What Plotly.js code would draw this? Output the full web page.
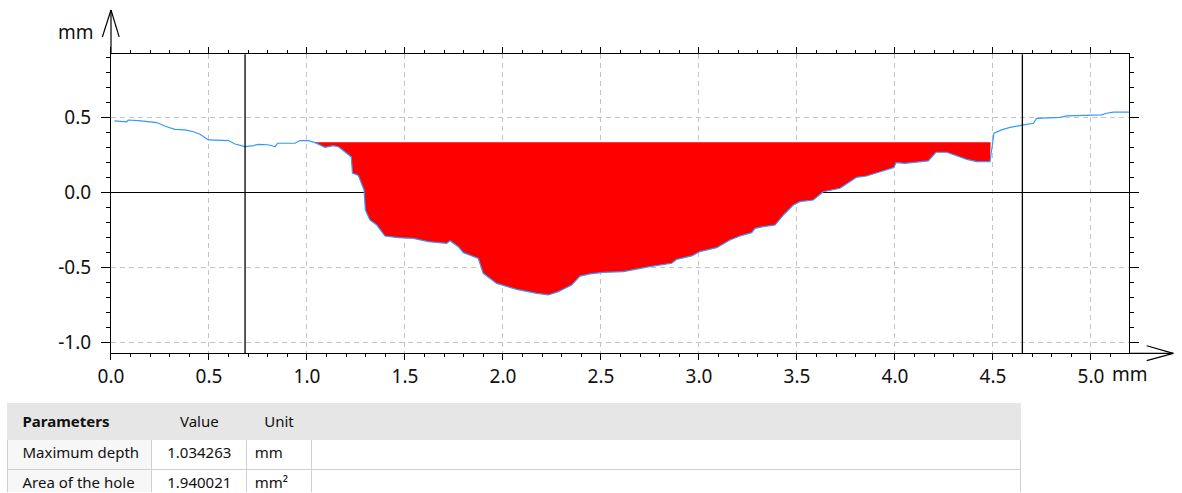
<!DOCTYPE html>
<html>
<head>
<meta charset="utf-8">
<script src="https://cdn.plot.ly/plotly-3.0.1.min.js"></script>
<style>
html,body{margin:0;padding:0;background:#fff;}
#chart{width:1182px;height:493px;}
</style>
</head>
<body>
<div id="chart"></div>
<script>
// ---- data ----
const profileX = [0.017,0.06,0.08,0.088,0.139,0.233,0.28,0.327,0.378,0.42,0.454,0.497,0.55,0.599,0.633,0.684,0.72,0.752,0.8,0.837,0.85,0.9,0.939,0.964,1.007,1.041,1.065,1.092,1.134,1.16,1.177,1.205,1.226,1.232,1.262,1.291,1.298,1.321,1.356,1.398,1.466,1.543,1.619,1.713,1.73,1.772,1.798,1.874,1.899,1.968,2.07,2.172,2.231,2.282,2.35,2.393,2.444,2.512,2.614,2.75,2.861,2.886,2.963,3.005,3.09,3.158,3.209,3.269,3.286,3.328,3.388,3.431,3.482,3.515,3.583,3.634,3.719,3.762,3.804,3.855,3.923,3.995,4.005,4.051,4.17,4.209,4.264,4.366,4.417,4.485,4.498,4.505,4.544,4.587,4.655,4.706,4.723,4.842,4.876,5.054,5.08,5.114,5.196];
const profileY = [0.477,0.474,0.47,0.483,0.479,0.466,0.44,0.421,0.417,0.405,0.388,0.35,0.348,0.346,0.323,0.306,0.31,0.321,0.318,0.306,0.328,0.33,0.328,0.346,0.346,0.332,0.318,0.301,0.312,0.305,0.288,0.262,0.237,0.13,0.113,0.017,-0.117,-0.183,-0.217,-0.29,-0.301,-0.306,-0.328,-0.339,-0.321,-0.361,-0.401,-0.439,-0.539,-0.606,-0.646,-0.672,-0.683,-0.661,-0.617,-0.557,-0.543,-0.532,-0.528,-0.494,-0.472,-0.446,-0.423,-0.394,-0.368,-0.317,-0.29,-0.268,-0.239,-0.228,-0.217,-0.15,-0.083,-0.061,-0.05,0.005,0.028,0.065,0.101,0.11,0.139,0.166,0.199,0.194,0.21,0.268,0.268,0.221,0.206,0.206,0.328,0.395,0.417,0.434,0.45,0.461,0.494,0.501,0.51,0.517,0.528,0.535,0.535];

const holeStart = 1.04;
const holeEnd = 4.488;
const holeLevel = 0.335;

const cursorX = [0.684, 4.65];

const xTickVals = [0,0.5,1,1.5,2,2.5,3,3.5,4,4.5,5];
const xTickText = ['0.0','0.5','1.0','1.5','2.0','2.5','3.0','3.5','4.0','4.5','5.0'];
const xMajorVals = [0,1,2,3,4,5];
const yTickVals = [-1,-0.5,0,0.5];
const yTickText = ['-1.0','-0.5','0.0','0.5'];

const tableHeader = ['Parameters','Value','Unit',''];
const paramNames = ['Maximum depth','Area of the hole'];
const paramValues = ['1.034263','1.940021'];
const paramUnits = ['mm','mm²'];

// ---- build traces ----
const fillX = [], fillY = [];
profileX.forEach((x,i)=>{ if (x>=holeStart && x<=holeEnd){ fillX.push(x); fillY.push(profileY[i]); } });
fillX.push(holeEnd, holeStart);
fillY.push(holeLevel, holeLevel);

const FONT = 'Noto Sans, Liberation Sans, sans-serif';
const indent = s => '\u2002' + s;
const headerText = tableHeader.map((s,i) => i === 0 ? indent('<b>' + s + '</b>') : '<span>' + s + '</span>');

const traces = [
  {type:'scatter', mode:'lines', x:fillX, y:fillY, fill:'toself', fillcolor:'#ff0000',
   line:{width:0,color:'#ff0000'}, hoverinfo:'skip', showlegend:false},
  {type:'scatter', mode:'lines', x:profileX, y:profileY, line:{color:'#3399ff', width:1.2},
   showlegend:false},
  {type:'table', domain:{x:[0,0.9037], y:[0,0.1863]},
   columnwidth:[145,95,65,709],
   header:{values:headerText, align:['left','center','center','left'], height:30,
     fill:{color:'#e6e6e6'}, line:{color:'#e6e6e6', width:1},
     font:{family:FONT, size:15, color:'#111'}},
   cells:{values:[paramNames.map(indent), paramValues, paramUnits, ['','']],
     align:['left','center','left','left'], height:30,
     fill:{color:['#f7f7f7','#ffffff','#ffffff','#ffffff']},
     line:{color:'#d0d0d0', width:1},
     font:{family:FONT, size:15, color:'#111'}}
  }
];

const xRange = [0, 5.194];
const yRange = [-1.072, 0.921];

const shapes = cursorX.map(cx => ({type:'line', xref:'x', yref:'y domain', x0:cx, x1:cx, y0:0, y1:1,
  line:{color:'#000', width:1.3}}));
// axis arrows (decoration)
const arrowLine = {color:'#000', width:1.2};
shapes.push(
  {type:'line', xref:'x domain', yref:'y domain', x0:0, x1:0, y0:1, y1:1.148, line:arrowLine},
  {type:'line', xref:'x domain', yref:'y domain', x0:-0.0085, x1:0, y0:1.058, y1:1.148, line:arrowLine},
  {type:'line', xref:'x domain', yref:'y domain', x0:0.0080, x1:0, y0:1.058, y1:1.148, line:arrowLine},
  {type:'line', xref:'x domain', yref:'y domain', x0:1, x1:1.0435, y0:0, y1:0, line:arrowLine},
  {type:'line', xref:'x domain', yref:'y domain', x0:1.0174, x1:1.0435, y0:0.0254, y1:0, line:arrowLine},
  {type:'line', xref:'x domain', yref:'y domain', x0:1.0174, x1:1.0435, y0:-0.0244, y1:0, line:arrowLine}
);

const tickFont = {family:FONT, size:19, color:'#111'};

const layout = {
  width:1182, height:493,
  margin:{l:7, r:53, t:10, b:0, pad:0},
  paper_bgcolor:'#fff', plot_bgcolor:'#fff',
  showlegend:false,
  font:{family:FONT, color:'#111'},
  xaxis:{domain:[0.09269,1], range:xRange, anchor:'y',
    tickmode:'array', tickvals:xTickVals, ticktext:xTickText,
    ticks:'outside', ticklen:6, tickcolor:'#000', tickwidth:1,
    showline:true, linecolor:'#000', linewidth:1, mirror:'ticks',
    showgrid:true, gridcolor:'#c4c4c4', griddash:'5px,4px', gridwidth:1,
    zeroline:false, tickfont:tickFont, ticklabelstandoff:0,
    minor:{tickmode:'linear', tick0:0, dtick:0.1, ticks:'outside', ticklen:3, tickcolor:'#000', showgrid:false}
  },
  xaxis2:{domain:[0.09269,1], range:xRange, overlaying:'x', anchor:'y', side:'bottom',
    tickmode:'array', tickvals:xMajorVals, ticks:'outside', ticklen:9, tickcolor:'#000',
    showticklabels:false, showgrid:false, zeroline:false, showline:false, mirror:'ticks'},
  yaxis:{domain:[0.2892,0.9083], range:yRange,
    tickmode:'array', tickvals:yTickVals, ticktext:yTickText,
    ticks:'outside', ticklen:9, tickcolor:'#000', tickwidth:1,
    showline:true, linecolor:'#000', linewidth:1, mirror:'ticks',
    showgrid:true, gridcolor:'#c4c4c4', griddash:'5px,4px', gridwidth:1,
    zeroline:true, zerolinecolor:'#000', zerolinewidth:1.3,
    tickfont:tickFont, ticklabelstandoff:6,
    minor:{tickmode:'linear', tick0:0, dtick:0.1, ticks:'outside', ticklen:3.5, tickcolor:'#000', showgrid:false}
  },
  shapes:shapes,
  annotations:[
    {xref:'x domain', yref:'y domain', x:-0.0344, y:1.0746, text:'mm', showarrow:false,
     font:{family:FONT, size:19, color:'#111'}, xanchor:'center', yanchor:'middle'},
    {xref:'x domain', yref:'y domain', x:1.001, y:-0.07, text:'mm', showarrow:false,
     font:{family:FONT, size:19, color:'#111'}, xanchor:'center', yanchor:'middle'}
  ]
};

Plotly.newPlot('chart', traces, layout, {displayModeBar:false, staticPlot:true});
</script>
</body>
</html>
